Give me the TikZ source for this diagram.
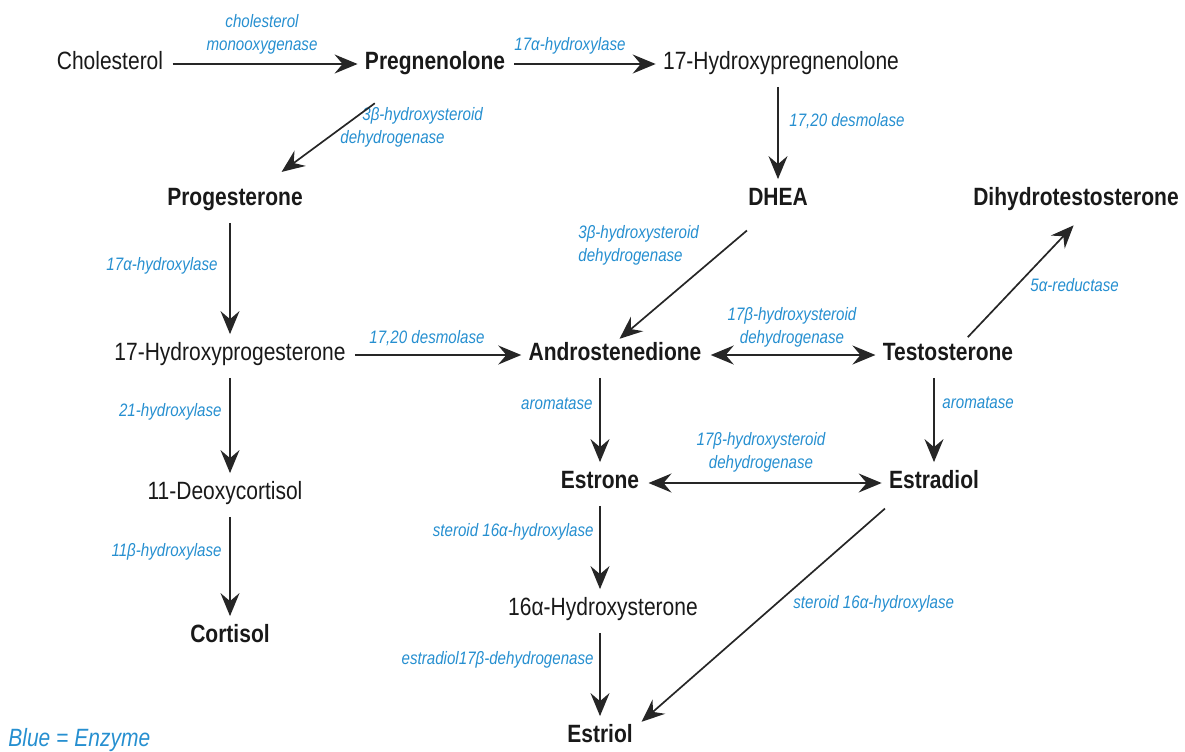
\documentclass[tikz,border=0pt]{standalone}
\usepackage{fontspec}
\setmainfont{Liberation Sans}[FakeStretch=0.84]
\usetikzlibrary{arrows.meta, calc}
\definecolor{enzblue}{RGB}{38,143,208}
\tikzset{
    base/.style={inner xsep=2.5pt, inner ysep=3pt, text height=9pt, text depth=3.5pt, text=black!90, font=\fontsize{12.5}{15}\selectfont},
    precursor/.style={base},
    hormone/.style={base, font=\fontsize{12.5}{15}\selectfont\bfseries},
    enzyme/.style={inner sep=0pt, align=center, text=enzblue, font=\fontsize{9}{11.5}\selectfont\itshape},
    arrow/.style={->, line width=0.85pt, draw=black!85, shorten <=2pt, shorten >=1pt},
    rev/.style={arrow, <->}
}
\begin{document}
\begin{tikzpicture}[x=0.5pt, y=-0.5pt, >={Stealth[length=11.5pt, width=9.5pt, inset=4pt]}]
    \useasboundingbox (0,0) rectangle (1185,751);

    \node (chol) [precursor] at (110,64) {Cholesterol};
    \node (preg) [hormone] at (435,64) {Pregnenolone};
    \node (hpreg) [precursor] at (781,64) {17-Hydroxypregnenolone};
    \node (prog) [hormone] at (235,200) {Progesterone};
    \node (dhea) [hormone] at (778,200) {DHEA};
    \node (dht) [hormone] at (1076,200) {Dihydrotestosterone};
    \node (hprog) [precursor] at (230,355) {17-Hydroxyprogesterone};
    \node (andro) [hormone] at (615,355) {Androstenedione};
    \node (testo) [hormone] at (948,355) {Testosterone};
    \node (estrone) [hormone] at (600,483) {Estrone};
    \node (estradiol) [hormone] at (934,483) {Estradiol};
    \node (deoxy) [precursor] at (225,494) {11-Deoxycortisol};
    \node (hestrone) [precursor] at (603,610) {16α-Hydroxysterone};
    \node (cortisol) [hormone] at (230,637) {Cortisol};
    \node (estriol) [hormone] at (600,737) {Estriol};

    \node (monoox) [enzyme] at (262,34) {cholesterol\\monooxygenase};
    \node (hydroxA) [enzyme] at (570,46) {17α-hydroxylase};
    \node (hsdA) [enzyme, anchor=west, align=left] at (340,127) {\hspace*{11pt}3β-hydroxysteroid\\dehydrogenase};
    \node (desmolA) [enzyme, anchor=west] at (789,121) {17,20 desmolase};
    \node (hydroxB) [enzyme, anchor=east] at (218,266) {17α-hydroxylase};
    \node (hsdB) [enzyme, anchor=west, align=left] at (578,245) {3β-hydroxysteroid\\dehydrogenase};
    \node (reduct) [enzyme, anchor=west] at (1030,285) {5α-reductase};
    \node (desmolB) [enzyme] at (427,338) {17,20 desmolase};
    \node (hsdC) [enzyme] at (792,327) {17β-hydroxysteroid\\dehydrogenase};
    \node (aromA) [enzyme, anchor=east] at (593,404) {aromatase};
    \node (aromB) [enzyme, anchor=west] at (942,403) {aromatase};
    \node (hydroxC) [enzyme, anchor=east] at (222,412) {21-hydroxylase};
    \node (hsdD) [enzyme] at (761,452) {17β-hydroxysteroid\\dehydrogenase};
    \node (hydroxD) [enzyme, anchor=east] at (222,552) {11β-hydroxylase};
    \node (hydroxE) [enzyme, anchor=east] at (594,532) {steroid 16α-hydroxylase};
    \node (dehyd) [enzyme, anchor=east] at (594,660) {estradiol17β-dehydrogenase};
    \node (hydroxF) [enzyme, anchor=west] at (793,604) {steroid 16α-hydroxylase};
    \node (legend) [enzyme, anchor=west, font=\fontsize{12.5}{15}\selectfont\itshape] at (8,740) {Blue = Enzyme};

    \draw [arrow] (chol) -- (preg);
    \draw [arrow] (preg) -- (hpreg);
    \draw [arrow] ($(preg.south)+(-57,18)$) -- ($(prog.north)+(45,-8)$);
    \draw [arrow] (hpreg.south -| dhea) -- (dhea);
    \draw [arrow] (prog.south -| hprog) -- (hprog);
    \draw [arrow] ($(dhea.south)+(-28,9)$) -- ($(andro.north)+(3,4)$);
    \draw [arrow] ($(testo.north)+(17,4)$) -- ($(dht.south)+(-1,5)$);
    \draw [arrow] (hprog) -- (andro);
    \draw [rev] (andro) -- (testo);
    \draw [arrow] (hprog.south) -- (hprog.south |- deoxy.north);
    \draw [arrow] (andro.south -| estrone) -- (estrone);
    \draw [arrow] (testo.south -| estradiol) -- (estradiol);
    \draw [rev] (estrone) -- (estradiol);
    \draw [arrow] (deoxy.south -| cortisol) -- (cortisol);
    \draw [arrow] (estrone) -- (estrone |- hestrone.north);
    \draw [arrow] (hestrone.south -| estriol) -- (estriol);
    \draw [arrow] ($(estradiol.south)+(-46,4)$) -- ($(estriol.north east)+(2,5)$);
\end{tikzpicture}
\end{document}
